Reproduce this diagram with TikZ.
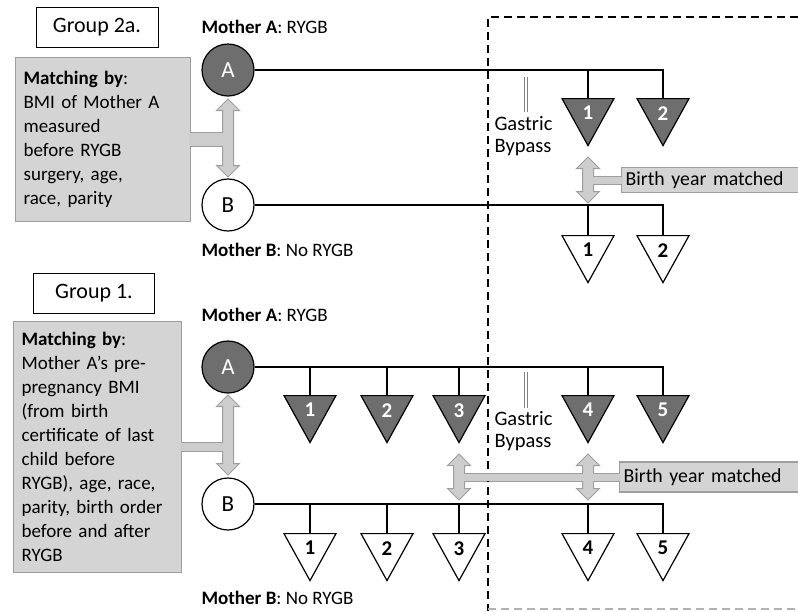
\documentclass[tikz,border=0pt]{standalone}
\usepackage{fontspec}
\setmainfont{Carlito}
\usetikzlibrary{shapes.geometric, shapes.arrows}
\pgfdeclarelayer{background}
\pgfsetlayers{background,main}

\definecolor{darkfill}{HTML}{6E6E6E}
\definecolor{boxfill}{HTML}{D4D4D4}
\definecolor{boxline}{HTML}{9E9E9E}
\definecolor{arrowfill}{HTML}{CDCDCD}

\begin{document}
\begin{tikzpicture}[x=1pt, y=-1pt,
    every node/.style={font=\fontsize{19}{24}\selectfont},
    mother/.style={circle, draw=black, line width=1.2pt, minimum size=52pt, inner sep=0pt, font=\fontsize{23}{24}\selectfont},
    groupbox/.style={rectangle, draw=black, line width=0.9pt, minimum width=122pt, minimum height=40pt, font=\fontsize{22}{24}\selectfont},
    matchbox/.style={rectangle, draw=boxline, fill=boxfill, line width=1.2pt, align=left, inner sep=8pt, anchor=north west},
    yearbox/.style={rectangle, draw=boxline, fill=boxfill, line width=1.2pt, anchor=west, minimum width=180pt, text width=172pt, inner sep=4pt, align=left, font=\fontsize{19.8}{24}\selectfont},
    kid/.style={isosceles triangle, isosceles triangle apex angle=50, shape border rotate=270, isosceles triangle stretches, draw=black, line width=1.2pt, minimum width=52pt, minimum height=47pt, inner sep=0pt, anchor=lower side, font=\fontsize{21}{24}\selectfont\bfseries},
    dkid/.style={kid, fill=darkfill, text=white},
    match/.style={double arrow, draw=boxline, fill=arrowfill, line width=1pt, rotate=90, double arrow head extend=6pt, inner sep=5pt},
    line/.style={line width=1.3pt},
    bypass/.style={draw=gray, line width=0.8pt, double=white, double distance=2.5pt}
]
    \useasboundingbox (0,0) rectangle (798,611);

    % Dashed frame after surgery
    \draw[line width=1.4pt, dash pattern=on 8pt off 5pt] (798,17) -- (488,17) -- (488,611);
    \draw[gray!60, line width=1.2pt, dash pattern=on 8pt off 5pt] (488,609) -- (798,609);

    % Group 2a
    \node[groupbox] (grpTwo) at (97,27) {Group 2a.};
    \node[anchor=west] (labAtwo) at (198,27) {\textbf{Mother A}: RYGB};
    \node[mother, fill=darkfill, text=white] (momAtwo) at (228,70) {A};
    \node[mother] (momBtwo) at (228,205) {B};
    \node[anchor=west] (labBtwo) at (198,250) {\textbf{Mother B}: No RYGB};
    \node[matchbox, minimum width=175pt, minimum height=164pt, text width=159pt] (matchTwo) at (15,57)
        {\textbf{Matching by}:\\BMI of Mother A\\measured\\before RYGB\\surgery, age,\\race, parity};
    \node[match, minimum height=78pt] (arrTwo) at (228,138) {};

    \node[dkid] (kidAtwo1) at (588,98) {1};
    \node[dkid] (kidAtwo2) at (663,98) {2};
    \node[kid] (kidBtwo1) at (588,235) {1};
    \node[kid] (kidBtwo2) at (663,235) {2};
    \node[match, minimum height=46pt] (yarrTwo) at (588,180) {};
    \node[yearbox] (yearTwo) at (621,180) {Birth year matched};

    \draw[bypass] (526,77) -- (526,112);
    \node[anchor=west, align=left, font=\fontsize{20.5}{22}\selectfont] (gbTwo) at (491,136) {Gastric\\Bypass};

    \draw[line] (momAtwo.east) -| (kidAtwo2.lower side);
    \draw[line] (kidAtwo1.lower side) -- (kidAtwo1.lower side |- momAtwo.east);
    \draw[line] (momBtwo.east) -| (kidBtwo2.lower side);
    \draw[line] (kidBtwo1.lower side) -- (kidBtwo1.lower side |- momBtwo.east);

    % Group 1
    \node[groupbox, minimum width=121pt] (grpOne) at (94,293) {Group 1.};
    \node[anchor=west] (labAone) at (198,315) {\textbf{Mother A}: RYGB};
    \node[mother, fill=darkfill, text=white] (momAone) at (228,367) {A};
    \node[mother] (momBone) at (228,504) {B};
    \node[anchor=west] (labBone) at (198,598) {\textbf{Mother B}: No RYGB};
    \node[matchbox, minimum width=168pt, minimum height=251pt, text width=152pt] (matchOne) at (13,321)
        {\textbf{Matching by}:\\Mother A’s pre-\\pregnancy BMI\\(from birth\\certificate of last\\child before\\RYGB), age, race,\\parity, birth order\\before and after\\RYGB};
    \node[match, minimum height=80pt] (arrOne) at (228,435) {};

    \node[dkid] (kidAone1) at (310,395) {1};
    \node[dkid] (kidAone2) at (387,395) {2};
    \node[dkid] (kidAone3) at (459,395) {3};
    \node[dkid] (kidAone4) at (588,395) {4};
    \node[dkid] (kidAone5) at (663,395) {5};
    \node[kid] (kidBone1) at (310,533) {1};
    \node[kid] (kidBone2) at (387,533) {2};
    \node[kid] (kidBone3) at (459,533) {3};
    \node[kid] (kidBone4) at (588,533) {4};
    \node[kid] (kidBone5) at (663,533) {5};
    \node[match, minimum height=46pt] (yarrOne3) at (459,477) {};
    \node[match, minimum height=46pt] (yarrOne4) at (588,477) {};
    \node[yearbox, minimum height=30pt] (yearOne) at (619,477) {Birth year matched};

    \draw[bypass] (526,372) -- (526,408);
    \node[anchor=west, align=left, font=\fontsize{20.5}{22}\selectfont] (gbOne) at (491,431) {Gastric\\Bypass};

    \draw[line] (momAone.east) -| (kidAone5.lower side);
    \foreach \k in {1,2,3,4}
        \draw[line] (kidAone\k.lower side) -- (kidAone\k.lower side |- momAone.east);
    \draw[line] (momBone.east) -| (kidBone5.lower side);
    \foreach \k in {1,2,3,4}
        \draw[line] (kidBone\k.lower side) -- (kidBone\k.lower side |- momBone.east);

    % Matching bars: outline behind, fill on top
    \begin{pgfonlayer}{background}
        \draw[boxline, line width=15pt] (matchTwo.east |- 0,139) -- (arrTwo.center |- 0,139);
        \draw[boxline, line width=10pt] (matchOne.east |- 0,447) -- (arrOne.center |- 0,447);
        \draw[boxline, line width=9pt] (yarrTwo.center) -- (yearTwo.west);
        \draw[boxline, line width=9pt] (yarrOne3.center) -- (yearOne.west);
    \end{pgfonlayer}
    \draw[arrowfill, line width=13pt] ([xshift=-2pt]matchTwo.east |- 0,139) -- (arrTwo.center |- 0,139);
    \draw[arrowfill, line width=8pt] ([xshift=-2pt]matchOne.east |- 0,447) -- (arrOne.center |- 0,447);
    \draw[arrowfill, line width=7pt] (yarrTwo.center) -- ([xshift=2pt]yearTwo.west);
    \draw[arrowfill, line width=7pt] (yarrOne3.center) -- ([xshift=2pt]yearOne.west);
\end{tikzpicture}
\end{document}
